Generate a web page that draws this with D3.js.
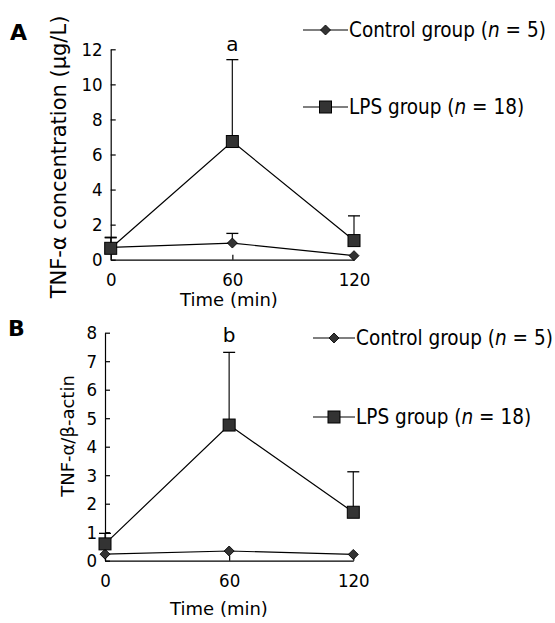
<!DOCTYPE html>
<html>
<head>
<meta charset="utf-8">
<script src="https://cdn.jsdelivr.net/npm/d3@7"></script>
<style>
  body { margin: 0; background: #fff; }
  svg text { font-family: "DejaVu Sans", sans-serif; fill: #000; }
  svg text.cond { font-family: "DejaVu Sans Condensed", "DejaVu Sans", sans-serif; }
</style>
</head>
<body>
<div id="container"></div>
<script>
/* DATA */
const times = [0, 60, 120];
const timeTicks = ["0", "60", "120"];

// panel A: TNF-alpha concentration (ug/L)
const ctrlA = [0.7, 0.95, 0.23];
const ctrlErrA = [0.58, 0.55, 0];
const lpsA = [0.65, 6.74, 1.09];
const lpsErrA = [0.6, 4.67, 1.41];
const ticksA = [0, 2, 4, 6, 8, 10, 12];

// panel B: TNF-alpha / beta-actin
const ctrlB = [0.23, 0.34, 0.22];
const ctrlErrB = [0, 0, 0];
const lpsB = [0.59, 4.76, 1.70];
const lpsErrB = [0.37, 2.55, 1.42];
const ticksB = [0, 1, 2, 3, 4, 5, 6, 7, 8];

const legendNames = ["Control group", "LPS group"];
const legendN = ["5", "18"];

/* CONSTANTS */
const width = 555, height = 623;

const svg = d3.select("#container")
  .append("svg")
  .attr("width", width)
  .attr("height", height);

const panels = [
  {
    letter: "A", letterX: 10, letterY: 40,
    x0: 110.7, x1: 354, yTop: 49.3, yBot: 259.7, yMax: 12, ticks: ticksA,
    ctrl: ctrlA, ctrlErr: ctrlErrA, lps: lpsA, lpsErr: lpsErrA,
    sig: "a", sigY: 51,
    yLabel: "TNF-α concentration (μg/L)", yLabelX: 66, yLabelY: 157, yLabelSize: 21,
    xLabelX: 229, xLabelY: 306,
    legX: 303, legY: [30, 107], legW: 45
  },
  {
    letter: "B", letterX: 8, letterY: 336,
    x0: 105, x1: 353.3, yTop: 332.7, yBot: 560.7, yMax: 8, ticks: ticksB,
    ctrl: ctrlB, ctrlErr: ctrlErrB, lps: lpsB, lpsErr: lpsErrB,
    sig: "b", sigY: 342,
    yLabel: "TNF-α/β-actin", yLabelX: 74, yLabelY: 436, yLabelSize: 18,
    xLabelX: 219, xLabelY: 615,
    legX: 313, legY: [338, 417], legW: 42
  }
];

panels.forEach(p => {
  const x = d3.scaleLinear().domain([0, 120]).range([p.x0, p.x1]);
  const y = d3.scaleLinear().domain([0, p.yMax]).range([p.yBot, p.yTop]);
  const g = svg.append("g");

  // AXES
  g.append("g")
    .attr("transform", `translate(${p.x0},0)`)
    .call(d3.axisLeft(y).tickValues(p.ticks).tickFormat(d3.format("d"))
      .tickSizeInner(-5).tickSizeOuter(0).tickPadding(8))
    .call(a => a.selectAll("text").attr("class", "cond").attr("font-size", 18.5))
    .call(a => a.attr("font-family", null));

  g.append("g")
    .attr("transform", `translate(0,${p.yBot})`)
    .call(d3.axisBottom(x).tickValues(times).tickFormat((d, i) => timeTicks[i])
      .tickSizeInner(-5).tickSizeOuter(0).tickPadding(13))
    .call(a => a.selectAll("text").attr("class", "cond").attr("font-size", 18.5))
    .call(a => a.attr("font-family", null));

  g.selectAll(".domain, .tick line").attr("stroke", "#000").attr("stroke-width", 1.2);

  // ERROR BARS (upper only)
  const errs = [
    ...times.map((t, i) => ({ t, v: p.ctrl[i], e: p.ctrlErr[i] })),
    ...times.map((t, i) => ({ t, v: p.lps[i], e: p.lpsErr[i] }))
  ].filter(d => d.e > 0);

  g.selectAll("line.err")
    .data(errs)
    .join("line")
    .attr("class", "err")
    .attr("x1", d => x(d.t)).attr("x2", d => x(d.t))
    .attr("y1", d => y(d.v)).attr("y2", d => y(d.v + d.e))
    .attr("stroke", "#222").attr("stroke-width", 1.3);

  g.selectAll("line.cap")
    .data(errs)
    .join("line")
    .attr("class", "cap")
    .attr("x1", d => x(d.t) - 6).attr("x2", d => x(d.t) + 6)
    .attr("y1", d => y(d.v + d.e)).attr("y2", d => y(d.v + d.e))
    .attr("stroke", "#000").attr("stroke-width", 1.3);

  // LINES
  const line = d3.line().x((d, i) => x(times[i])).y(d => y(d));
  g.append("path").datum(p.ctrl).attr("d", line)
    .attr("fill", "none").attr("stroke", "#000").attr("stroke-width", 1.2);
  g.append("path").datum(p.lps).attr("d", line)
    .attr("fill", "none").attr("stroke", "#000").attr("stroke-width", 1.2);

  // MARKERS
  const diamond = d3.symbol().type(d3.symbolSquare).size(50);
  g.selectAll("path.ctrl")
    .data(p.ctrl)
    .join("path")
    .attr("class", "ctrl")
    .attr("d", diamond)
    .attr("transform", (d, i) => `translate(${x(times[i])},${y(d)}) rotate(45)`)
    .attr("fill", "#333").attr("stroke", "#000").attr("stroke-width", 0.8);

  g.selectAll("rect.lps")
    .data(p.lps)
    .join("rect")
    .attr("class", "lps")
    .attr("x", (d, i) => x(times[i]) - 6)
    .attr("y", d => y(d) - 6)
    .attr("width", 12).attr("height", 12)
    .attr("fill", "#333").attr("stroke", "#000").attr("stroke-width", 1);

  // SIGNIFICANCE LETTER
  g.append("text")
    .attr("x", x(60)).attr("y", p.sigY)
    .attr("text-anchor", "middle").attr("font-size", 20)
    .text(p.sig);

  // PANEL LETTER
  g.append("text")
    .attr("x", p.letterX).attr("y", p.letterY)
    .attr("font-size", 22).attr("font-weight", "bold")
    .text(p.letter);

  // AXIS TITLES
  g.append("text")
    .attr("transform", `translate(${p.yLabelX},${p.yLabelY}) rotate(-90)`)
    .attr("text-anchor", "middle").attr("font-size", p.yLabelSize)
    .text(p.yLabel);

  g.append("text")
    .attr("x", p.xLabelX).attr("y", p.xLabelY)
    .attr("text-anchor", "middle").attr("font-size", 18)
    .text("Time (min)");

  // LEGEND
  legendNames.forEach((name, i) => {
    const ly = p.legY[i];
    const lx = p.legX;
    g.append("line")
      .attr("x1", lx).attr("x2", lx + p.legW)
      .attr("y1", ly).attr("y2", ly)
      .attr("stroke", "#000").attr("stroke-width", 1.2);
    if (i === 0) {
      g.append("path").attr("d", diamond)
        .attr("transform", `translate(${lx + p.legW / 2},${ly}) rotate(45)`)
        .attr("fill", "#333").attr("stroke", "#000").attr("stroke-width", 0.8);
    } else {
      g.append("rect")
        .attr("x", lx + p.legW / 2 - 6).attr("y", ly - 6)
        .attr("width", 12).attr("height", 12)
        .attr("fill", "#333").attr("stroke", "#000");
    }
    const t = g.append("text")
      .attr("class", "cond")
      .attr("x", lx + p.legW + 1).attr("y", ly + 7)
      .attr("font-size", 20.5);
    t.append("tspan").text(name + " (");
    t.append("tspan").attr("font-style", "italic").text("n");
    t.append("tspan").text(" = " + legendN[i] + ")");
  });
});
</script>
</body>
</html>
